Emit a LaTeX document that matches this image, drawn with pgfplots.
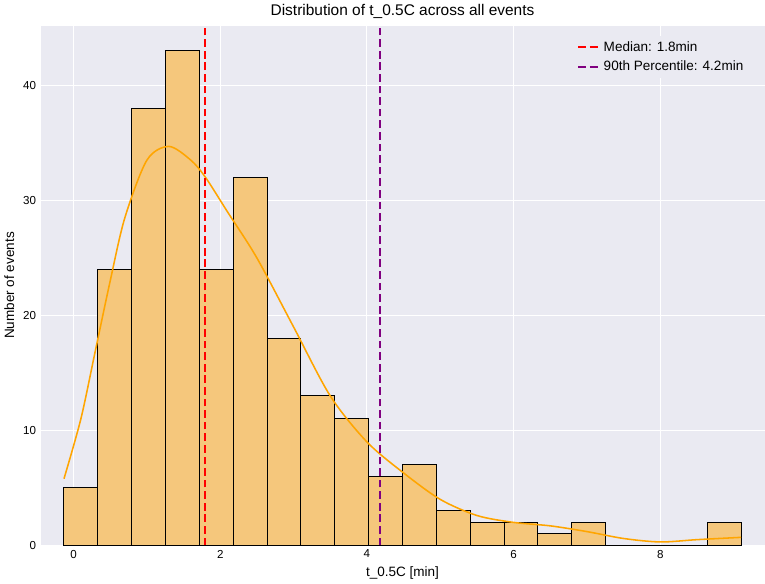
\documentclass[border=0pt]{standalone}
\usepackage{pgfplots}
\pgfplotsset{compat=1.18}
\usepackage{fontspec}
\setmainfont{Liberation Sans}
\definecolor{bg}{HTML}{EAEAF2}
\definecolor{barc}{HTML}{F5C77C}
\definecolor{kde}{HTML}{FFA500}
\definecolor{purp}{RGB}{128,0,128}
\begin{document}
\begin{tikzpicture}
\begin{axis}[
  scale only axis, width=560bp, height=402bp,
  xmin=-0.45, xmax=9.42, ymin=0, ymax=45.2,
  axis background/.style={fill=bg},
  axis line style={draw=none},
  grid=major, grid style={white, line width=0.8pt},
  tick style={draw=none},
  xtick={0,2,4,6,8}, ytick={0,10,20,30,40},
  ticklabel style={font=\fontsize{9}{11}\selectfont},
  /pgf/number format/assume math mode=true,
  xlabel={t\_0.5C [min]}, ylabel={Number of events},
  label style={font=\fontsize{10.5}{12}\selectfont},
  title={Distribution of t\_0.5C across all events},
  title style={font=\fontsize{12}{14}\selectfont, yshift=-4pt},
  legend style={at={(0.98,0.98)}, anchor=north east, draw=none, fill=bg, font=\fontsize{10.5}{13}\selectfont, row sep=2pt},
  legend cell align=left,
]
\addplot[ybar interval, fill=barc, draw=black, line width=0.8pt, forget plot] coordinates {
(-0.13,5)(0.3315,24)(0.793,38)(1.2545,43)(1.716,24)(2.1775,32)(2.639,18)(3.1005,13)(3.562,11)(4.0235,6)(4.485,7)(4.9465,3)(5.408,2)(5.8695,2)(6.331,1)(6.7925,2)(7.254,0)(7.7155,0)(8.177,0)(8.6385,2)(9.1,2)};
\addplot[draw=kde, line width=1.2pt, smooth, forget plot, mark=none] coordinates {
(-0.13,5.8)(0.1,11)(0.3,17)(0.5,23)(0.7,28.5)(1.0,33.5)(1.3,34.7)(1.6,33.5)(1.8,32)(2.1,29)(2.5,25)(3.0,19)(3.5,13)(4.0,9)(4.5,6.3)(5.0,4)(5.5,2.6)(6.0,2.0)(6.5,1.7)(7.0,1.2)(7.5,0.6)(8.0,0.3)(8.5,0.5)(9.1,0.7)};
\addplot[draw=red, dash pattern=on 6pt off 3pt, line width=1.4pt, mark=none] coordinates {(1.79,0)(1.79,45.2)};
\addlegendentry{Median: 1.8min}
\addplot[draw=purp, dash pattern=on 6pt off 3pt, line width=1.4pt, mark=none] coordinates {(4.18,0)(4.18,45.2)};
\addlegendentry{90th Percentile: 4.2min}
\end{axis}
\end{tikzpicture}
\end{document}
